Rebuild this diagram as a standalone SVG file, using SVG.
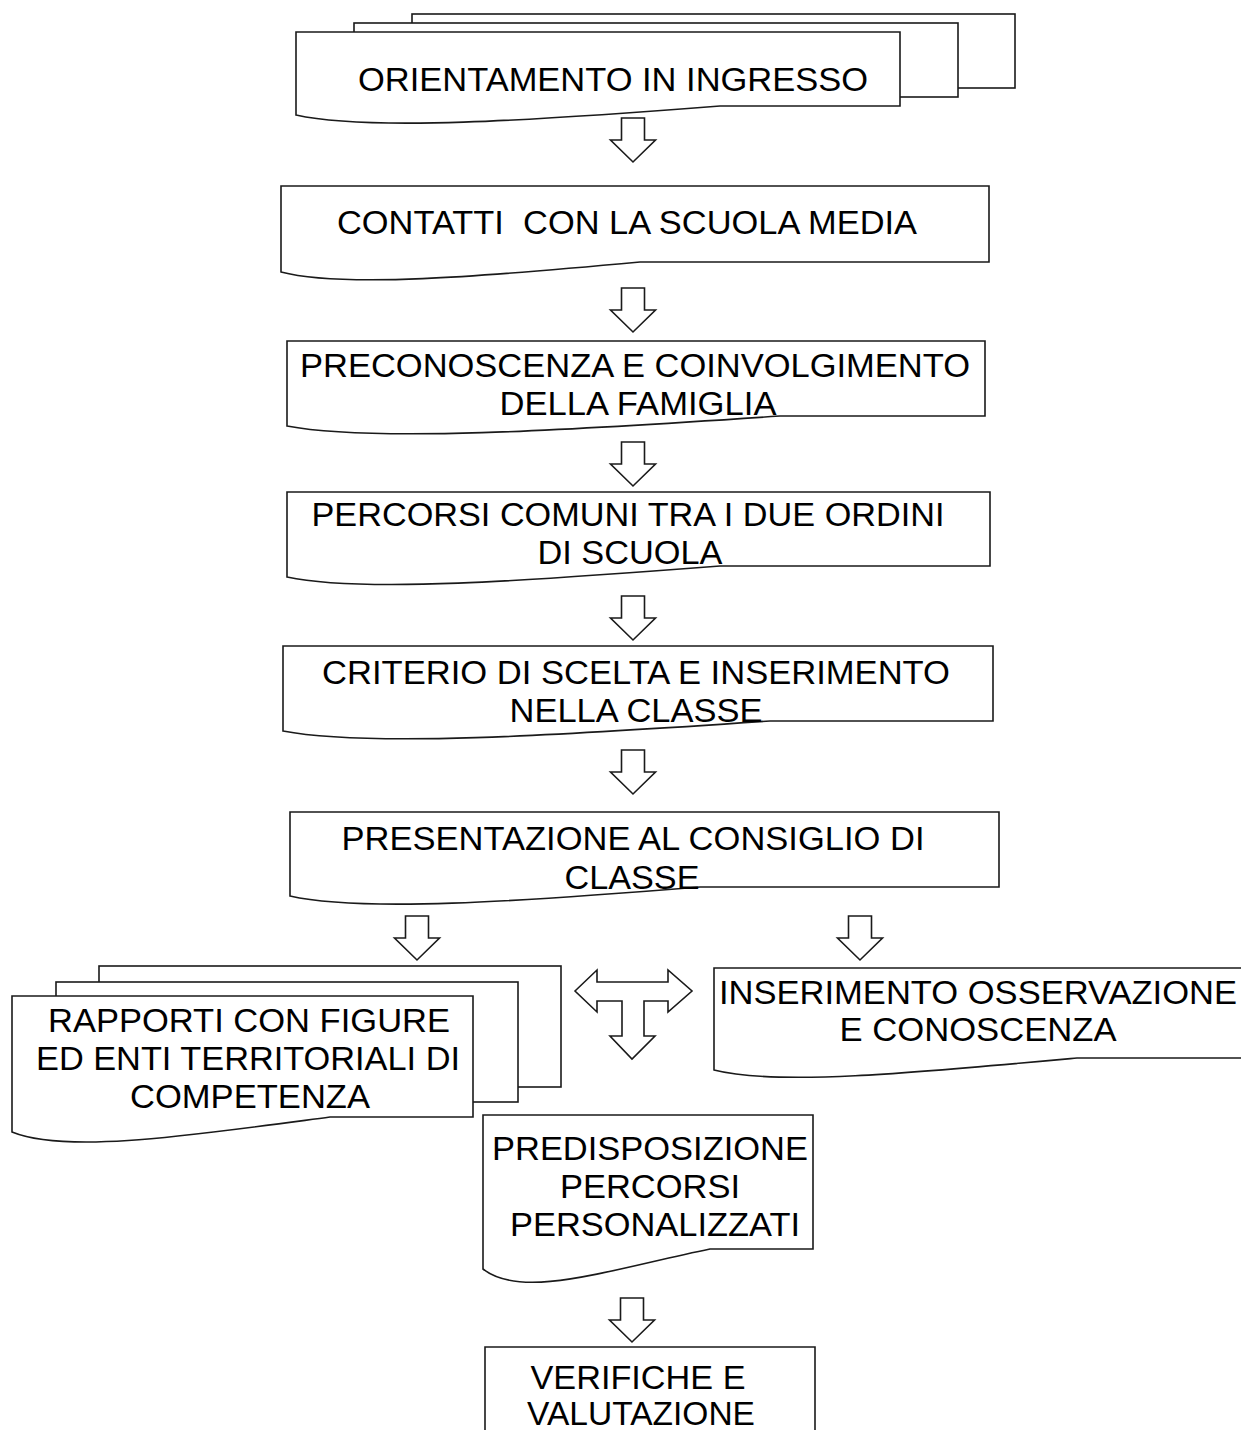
<svg xmlns="http://www.w3.org/2000/svg" width="1241" height="1430" viewBox="0 0 1241 1430">
<style>
.s{fill:#fff;stroke:#1a1a1a;stroke-width:1.6;stroke-linejoin:miter}
.t{font-family:"Liberation Sans",Arial,sans-serif;font-size:34px;fill:#000;text-anchor:middle}
</style>
<defs>
<path id="arr" d="M-11.5,-44 H11.5 V-22 H22.5 L0,0 L-22.5,-22 H-11.5 Z"/>
</defs>
<rect width="1241" height="1430" fill="#fff"/>

<g id="n1">
<rect class="s" x="412" y="14" width="603" height="74"/>
<rect class="s" x="354" y="23" width="604" height="74"/>
<path class="s" d="M296,32 H900 V106 H720 C529,121 368,131 296,115 Z"/>
<text class="t" x="613" y="91" textLength="510" lengthAdjust="spacingAndGlyphs">ORIENTAMENTO IN INGRESSO</text>
</g>

<g id="n2">
<path class="s" d="M281,186 H989 V262 H640 C478,277 342,288 281,272 Z"/>
<text class="t" x="627" y="234" textLength="580" lengthAdjust="spacingAndGlyphs" xml:space="preserve">CONTATTI  CON LA SCUOLA MEDIA</text>
</g>

<g id="n3">
<path class="s" d="M287,341 H985 V416 H780 C558,431 371,442 287,426 Z"/>
<text class="t" x="635" y="377" textLength="670" lengthAdjust="spacingAndGlyphs">PRECONOSCENZA E COINVOLGIMENTO</text>
<text class="t" x="638" y="415" textLength="277" lengthAdjust="spacingAndGlyphs">DELLA FAMIGLIA</text>
</g>

<g id="n4">
<path class="s" d="M287,492 H990 V566 H720 C525,581 361,593 287,577 Z"/>
<text class="t" x="628" y="526" textLength="633" lengthAdjust="spacingAndGlyphs">PERCORSI COMUNI TRA I DUE ORDINI</text>
<text class="t" x="630" y="564" textLength="185" lengthAdjust="spacingAndGlyphs">DI SCUOLA</text>
</g>

<g id="n5">
<path class="s" d="M283,646 H993 V721 H770 C551,736 366,747 283,731 Z"/>
<text class="t" x="636" y="684" textLength="628" lengthAdjust="spacingAndGlyphs">CRITERIO DI SCELTA E INSERIMENTO</text>
<text class="t" x="636" y="722" textLength="253" lengthAdjust="spacingAndGlyphs">NELLA CLASSE</text>
</g>

<g id="n6">
<path class="s" d="M290,812 H999 V887 H700 C516,902 360,912 290,896 Z"/>
<text class="t" x="633" y="850" textLength="583" lengthAdjust="spacingAndGlyphs">PRESENTAZIONE AL CONSIGLIO DI</text>
<text class="t" x="632" y="889" textLength="135" lengthAdjust="spacingAndGlyphs">CLASSE</text>
</g>

<g id="n7">
<rect class="s" x="99" y="966" width="462" height="121"/>
<rect class="s" x="56" y="982" width="462" height="120"/>
<path class="s" d="M12,996 H473 V1117 H330 C187,1136 66,1154 12,1132 Z"/>
<text class="t" x="249" y="1032" textLength="402" lengthAdjust="spacingAndGlyphs">RAPPORTI CON FIGURE</text>
<text class="t" x="248" y="1070" textLength="424" lengthAdjust="spacingAndGlyphs">ED ENTI TERRITORIALI DI</text>
<text class="t" x="250" y="1108" textLength="240" lengthAdjust="spacingAndGlyphs">COMPETENZA</text>
</g>

<g id="n8">
<path class="s" d="M714,968 H1260 V1058 H1077 C914,1073 776,1086 714,1070 Z"/>
<text class="t" x="978" y="1004" textLength="518" lengthAdjust="spacingAndGlyphs">INSERIMENTO OSSERVAZIONE</text>
<text class="t" x="978" y="1041" textLength="277" lengthAdjust="spacingAndGlyphs">E CONOSCENZA</text>
</g>

<g id="n9">
<path class="s" d="M483,1115 H813 V1249 H710 C608,1270 522,1300 483,1269 Z"/>
<text class="t" x="650" y="1160" textLength="316" lengthAdjust="spacingAndGlyphs">PREDISPOSIZIONE</text>
<text class="t" x="650" y="1198" textLength="180" lengthAdjust="spacingAndGlyphs">PERCORSI</text>
<text class="t" x="655" y="1236" textLength="290" lengthAdjust="spacingAndGlyphs">PERSONALIZZATI</text>
</g>

<g id="n10">
<path class="s" d="M485,1440 V1347 H815 V1440"/>
<text class="t" x="638" y="1389" textLength="215" lengthAdjust="spacingAndGlyphs">VERIFICHE E</text>
<text class="t" x="641" y="1425" textLength="228" lengthAdjust="spacingAndGlyphs">VALUTAZIONE</text>
</g>

<g id="connectors">
<use href="#arr" class="s" x="633" y="162"/>
<use href="#arr" class="s" x="633" y="332"/>
<use href="#arr" class="s" x="633" y="486"/>
<use href="#arr" class="s" x="633" y="640"/>
<use href="#arr" class="s" x="633" y="794"/>
<use href="#arr" class="s" x="417" y="960"/>
<use href="#arr" class="s" x="860" y="960"/>
<path class="s" d="M575,991 L597,970 V982 H668 V970 L692,991 L668,1012 V1001 H644 V1036 H655 L632,1059 L610,1036 H622 V1001 H597 V1012 Z"/>
<use href="#arr" class="s" x="632" y="1342"/>
</g>
</svg>
